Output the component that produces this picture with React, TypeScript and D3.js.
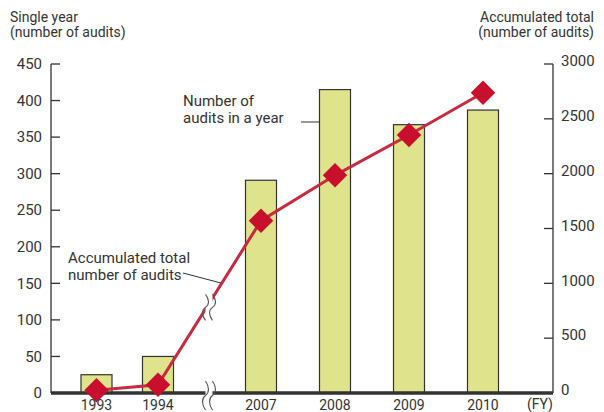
import * as d3 from 'd3';

// fiscal years, split by the axis break
const earlyYears = ["1993", "1994"];
const lateYears = ["2007", "2008", "2009", "2010"];
const years = [...earlyYears, ...lateYears];

// number of audits in a single year (left axis)
const singleYear = [25, 50, 291, 415, 367, 387];
// accumulated total (right axis)
const accumulated = [25, 75, 1571, 1985, 2353, 2738];

const leftTicks = [0, 50, 100, 150, 200, 250, 300, 350, 400, 450];
const rightTicks = [0, 500, 1000, 1500, 2000, 2500, 3000];

const W = 604;
const H = 412;
const FONT = "'Liberation Sans Narrow', 'Arial Narrow', 'Roboto', sans-serif";

const axisLeftX = 51;
const axisRightX = 553;
const baseY = 393;
const topY = 64;

const barFill = "#dfe38b";
const red = "#c8102e";
const lineRed = "#c82a3f";
const ink = "#333";

// squiggle used for the axis break
const squiggle = (x: number, y0: number, y1: number) => {
  const m = (y0 + y1) / 2;
  const h = y1 - y0;
  return `M${x},${y0} C${x + 4},${y0 + h * 0.2} ${x + 4},${m - h * 0.1} ${x},${m} C${x - 4},${m + h * 0.1} ${x - 4},${y1 - h * 0.2} ${x},${y1}`;
};

const App = () => {
  const xEarly = d3.scalePoint<string>().domain(earlyYears).range([96.5, 158]);
  const xLate = d3.scalePoint<string>().domain(lateYears).range([261, 483]);
  const x = (yr: string) => (earlyYears.includes(yr) ? xEarly(yr)! : xLate(yr)!);

  const yLeft = d3.scaleLinear().domain([0, 450]).range([baseY, topY]);
  const yRight = d3.scaleLinear().domain([0, 3000]).range([baseY, topY]);

  const barW = 31;

  const pts: [number, number][] = years.map((yr, i) => [x(yr), yRight(accumulated[i])]);
  const line = d3.line()(pts) || "";
  const diamond = d3.symbol().type(d3.symbolSquare).size(300)() || "";

  const breakX = (x("1994") + x("2007")) / 2 - 1;
  // where the accumulated line crosses the break
  const t = (breakX - pts[1][0]) / (pts[2][0] - pts[1][0]);
  const breakLineY = pts[1][1] + t * (pts[2][1] - pts[1][1]);

  return (
    <svg width={W} height={H} style={{ position: 'absolute', left: 0, top: 0, fontFamily: FONT }}>
      <rect width={W} height={H} fill="#fff" />

      {/* axis titles */}
      <text x={10} y={22} fontSize={14} fill={ink}>Single year</text>
      <text x={10} y={37} fontSize={14} fill={ink}>(number of audits)</text>
      <text x={594} y={22} fontSize={14} fill={ink} textAnchor="end">Accumulated total</text>
      <text x={594} y={37} fontSize={14} fill={ink} textAnchor="end">(number of audits)</text>

      {/* left axis */}
      <line x1={axisLeftX} x2={axisLeftX} y1={topY} y2={baseY} stroke={ink} strokeWidth={1.3} />
      {leftTicks.map(v => (
        <g key={'l' + v}>
          <line x1={axisLeftX} x2={axisLeftX + 9} y1={yLeft(v)} y2={yLeft(v)} stroke={ink} strokeWidth={1.3} />
          <text x={42} y={yLeft(v)} dy="0.35em" textAnchor="end" fontSize={15} fill={ink}>{v}</text>
        </g>
      ))}

      {/* right axis */}
      <line x1={axisRightX} x2={axisRightX} y1={topY} y2={baseY} stroke={ink} strokeWidth={1.3} />
      {rightTicks.map(v => (
        <g key={'r' + v}>
          <line x1={axisRightX - 9} x2={axisRightX} y1={yRight(v)} y2={yRight(v)} stroke={ink} strokeWidth={1.3} />
          <text x={561} y={yRight(v) - 3} dy="0.35em" fontSize={15} fill={ink}>{v}</text>
        </g>
      ))}

      {/* bars */}
      {years.map((yr, i) => (
        <rect key={yr} x={x(yr) - barW / 2} y={yLeft(singleYear[i])} width={barW}
          height={baseY - yLeft(singleYear[i])} fill={barFill} stroke={ink} strokeWidth={1.2} />
      ))}

      {/* baseline */}
      <line x1={axisLeftX} x2={axisRightX} y1={baseY} y2={baseY} stroke={ink} strokeWidth={3.5} />

      {/* accumulated line */}
      <path d={line} fill="none" stroke={lineRed} strokeWidth={3} />

      {/* breaks */}
      <rect x={breakX - 3} y={breakLineY - 14} width={7} height={26} fill="#fff" />
      <path d={squiggle(breakX - 3, breakLineY - 10, breakLineY + 16)} fill="none" stroke="#555" strokeWidth={1.1} />
      <path d={squiggle(breakX + 4, breakLineY - 10, breakLineY + 16)} fill="none" stroke="#555" strokeWidth={1.1} />
      <rect x={breakX - 3} y={baseY - 3} width={7} height={6} fill="#fff" />
      <path d={squiggle(breakX - 3, baseY - 12, baseY + 17)} fill="none" stroke="#555" strokeWidth={1.1} />
      <path d={squiggle(breakX + 4, baseY - 12, baseY + 17)} fill="none" stroke="#555" strokeWidth={1.1} />

      {/* diamonds */}
      {pts.map(([px, py], i) => (
        <path key={'d' + i} d={diamond} transform={`translate(${px},${py}) rotate(45)`} fill={red} />
      ))}

      {/* x labels */}
      {years.map(yr => (
        <text key={'x' + yr} x={x(yr)} y={410} textAnchor="middle" fontSize={14} fill={ink}>{yr}</text>
      ))}
      <text x={540} y={409} textAnchor="middle" fontSize={14} fill={ink}>(FY)</text>

      {/* annotations */}
      <text x={183} y={106} fontSize={15} fill={ink}>Number of</text>
      <text x={183} y={123} fontSize={15} fill={ink}>audits in a year</text>
      <line x1={301} x2={x("2008") - barW / 2} y1={122} y2={122} stroke={ink} strokeWidth={1} />

      <text x={68} y={263} fontSize={15} fill={ink}>Accumulated total</text>
      <text x={68} y={280} fontSize={15} fill={ink}>number of audits</text>
      <line x1={183} y1={273} x2={221} y2={283} stroke={ink} strokeWidth={1} />
    </svg>
  );
};

export default App;
